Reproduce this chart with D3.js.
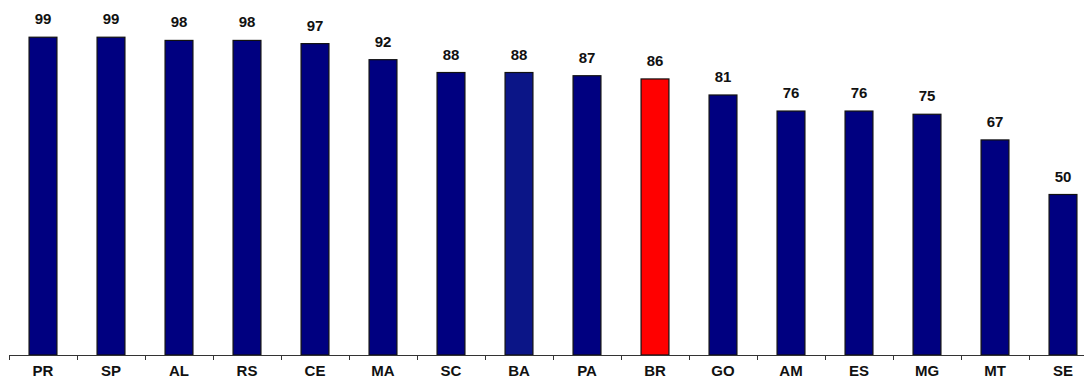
<!DOCTYPE html>
<html>
<head>
<meta charset="utf-8">
<script src="https://cdn.jsdelivr.net/npm/d3@7"></script>
<style>
  html, body { margin: 0; padding: 0; background: #fff; }
  svg { display: block; }
</style>
</head>
<body>
<svg id="chart" width="1084" height="380"></svg>
<script>
// States ranked by value, with the national average (BR) highlighted
const states = ["PR", "SP", "AL", "RS", "CE", "MA", "SC", "BA", "PA", "BR", "GO", "AM", "ES", "MG", "MT", "SE"];
const values = [99, 99, 98, 98, 97, 92, 88, 88, 87, 86, 81, 76, 76, 75, 67, 50];
const fills  = ["#000080", "#000080", "#000080", "#000080", "#000080", "#000080", "#000080", "#0b1587",
                "#000080", "#ff0000", "#000080", "#000080", "#000080", "#000080", "#000080", "#000080"];

const svg = d3.select("#chart");
const baseY = 355;

const x = d3.scaleBand()
  .domain(states)
  .range([9, 9 + 68 * states.length])
  .paddingInner(0.59)
  .paddingOuter(0.295);

const y = d3.scaleLinear()
  .domain([0, 100])
  .range([baseY, 34]);

// Bars
svg.append("g")
  .selectAll("rect")
  .data(states)
  .join("rect")
  .attr("x", d => x(d))
  .attr("y", (d, i) => y(values[i]))
  .attr("width", x.bandwidth())
  .attr("height", (d, i) => baseY - y(values[i]))
  .attr("fill", (d, i) => fills[i])
  .attr("stroke", "#111")
  .attr("stroke-width", 1.2);

// Value labels
svg.append("g")
  .selectAll("text")
  .data(states)
  .join("text")
  .attr("x", d => x(d) + x.bandwidth() / 2)
  .attr("y", (d, i) => y(values[i]) - 13)
  .attr("text-anchor", "middle")
  .attr("font-family", "Liberation Sans, Arial, sans-serif")
  .attr("font-weight", "bold")
  .attr("font-size", 15)
  .attr("fill", "#111")
  .text((d, i) => values[i]);

// Category axis: line, ticks between bands, labels below
const axis = svg.append("g");
axis.append("line")
  .attr("x1", 9).attr("x2", 1084)
  .attr("y1", baseY + 0.5).attr("y2", baseY + 0.5)
  .attr("stroke", "#333").attr("stroke-width", 1);

const step = x.step();
const bounds = d3.range(states.length + 1).map(i => x(states[0]) - x.paddingOuter() * step + i * step);
axis.selectAll("line.tick")
  .data(bounds)
  .join("line")
  .attr("class", "tick")
  .attr("x1", d => Math.round(d) + 0.5).attr("x2", d => Math.round(d) + 0.5)
  .attr("y1", baseY).attr("y2", baseY + 5)
  .attr("stroke", "#333");

axis.selectAll("text")
  .data(states)
  .join("text")
  .attr("x", d => x(d) + x.bandwidth() / 2)
  .attr("y", 376)
  .attr("text-anchor", "middle")
  .attr("font-family", "Liberation Sans, Arial, sans-serif")
  .attr("font-weight", "bold")
  .attr("font-size", 15)
  .attr("fill", "#111")
  .text(d => d);
</script>
</body>
</html>
